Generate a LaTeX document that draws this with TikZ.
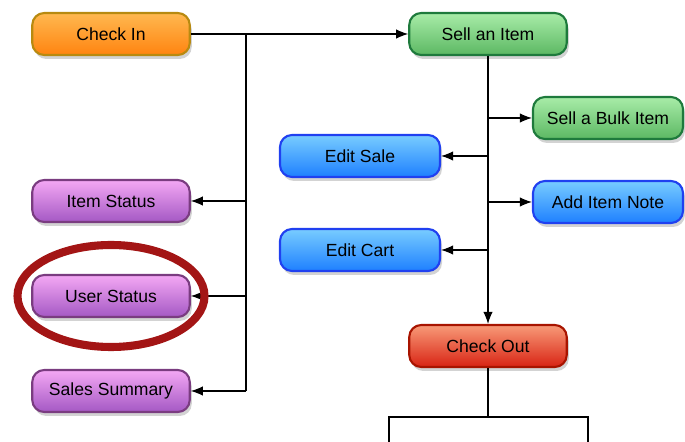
\documentclass[tikz,border=0pt]{standalone}
\usepackage{fontspec}
\setmainfont{Liberation Sans}
\usetikzlibrary{shadows,arrows.meta}

\definecolor{orangetop}{HTML}{FFB850}
\definecolor{orangebot}{HTML}{FF8410}
\definecolor{orangeline}{HTML}{B88A10}
\definecolor{greentop}{HTML}{A8ECA8}
\definecolor{greenbot}{HTML}{5CB863}
\definecolor{greenline}{HTML}{1E7A3C}
\definecolor{bluetop}{HTML}{78CCFF}
\definecolor{bluebot}{HTML}{1E80FF}
\definecolor{blueline}{HTML}{2040F0}
\definecolor{purpletop}{HTML}{F4A8F4}
\definecolor{purplebot}{HTML}{A458C4}
\definecolor{purpleline}{HTML}{7A3C80}
\definecolor{redtop}{HTML}{F89A78}
\definecolor{redbot}{HTML}{D82414}
\definecolor{redline}{HTML}{A81400}
\definecolor{markred}{HTML}{A31515}

\begin{document}
\begin{tikzpicture}[
    task/.style={rounded corners=0.24cm, line width=1.2pt, minimum width=3.15cm,
        minimum height=0.84cm, font=\fontsize{10}{12}\selectfont,
        drop shadow={opacity=0.35, shadow xshift=0.04cm, shadow yshift=-0.08cm}},
    orangetask/.style={task, draw=orangeline, top color=orangetop, bottom color=orangebot},
    greentask/.style={task, draw=greenline, top color=greentop, bottom color=greenbot},
    bluetask/.style={task, draw=blueline, top color=bluetop, bottom color=bluebot},
    purpletask/.style={task, draw=purpleline, top color=purpletop, bottom color=purplebot},
    redtask/.style={task, draw=redline, top color=redtop, bottom color=redbot},
    link/.style={line width=0.7pt},
    >={Latex[length=2.4mm,width=1.9mm]}]
    \useasboundingbox (0,0) rectangle (13.7,-8.84);

    \node[orangetask] (checkin) at (2.22,-0.68) {Check In};
    \node[greentask] (sell) at (9.76,-0.68) {Sell an Item};
    \node[greentask, minimum width=3.0cm] (bulk) at (12.16,-2.36) {Sell a Bulk Item};
    \node[bluetask, minimum width=3.2cm] (editsale) at (7.2,-3.12) {Edit Sale};
    \node[bluetask, minimum width=3.0cm] (addnote) at (12.16,-4.04) {Add Item Note};
    \node[bluetask, minimum width=3.2cm] (editcart) at (7.2,-5.0) {Edit Cart};
    \node[redtask] (checkout) at (9.76,-6.92) {Check Out};
    \node[purpletask] (itemstatus) at (2.22,-4.02) {Item Status};
    \node[purpletask] (userstatus) at (2.22,-5.92) {User Status};
    \node[purpletask] (salessum) at (2.22,-7.82) {Sales Summary};

    % check in branches
    \coordinate (bus) at (4.92,-0.68);
    \draw[link,->] (checkin) -- (sell);
    \draw[link] (bus) -- (bus |- salessum);
    \draw[link,->] (bus |- itemstatus) -- (itemstatus);
    \draw[link,->] (bus |- userstatus) -- (userstatus);
    \draw[link,->] (bus |- salessum) -- (salessum);

    % sell an item branches
    \draw[link,->] (sell) -- (checkout);
    \draw[link,->] (sell |- bulk) -- (bulk);
    \draw[link,->] (sell |- editsale) -- (editsale);
    \draw[link,->] (sell |- addnote) -- (addnote);
    \draw[link,->] (sell |- editcart) -- (editcart);

    % check out to the box below
    \coordinate (pay) at (9.76,-8.34);
    \draw[link] (checkout) -- (pay);
    \draw[link] (7.78,-8.84) -- (7.78,-8.34) -- (11.76,-8.34) -- (11.76,-8.84);

    \draw[markred, line width=4.6pt] (userstatus) ellipse (1.87cm and 1.02cm);
\end{tikzpicture}
\end{document}
